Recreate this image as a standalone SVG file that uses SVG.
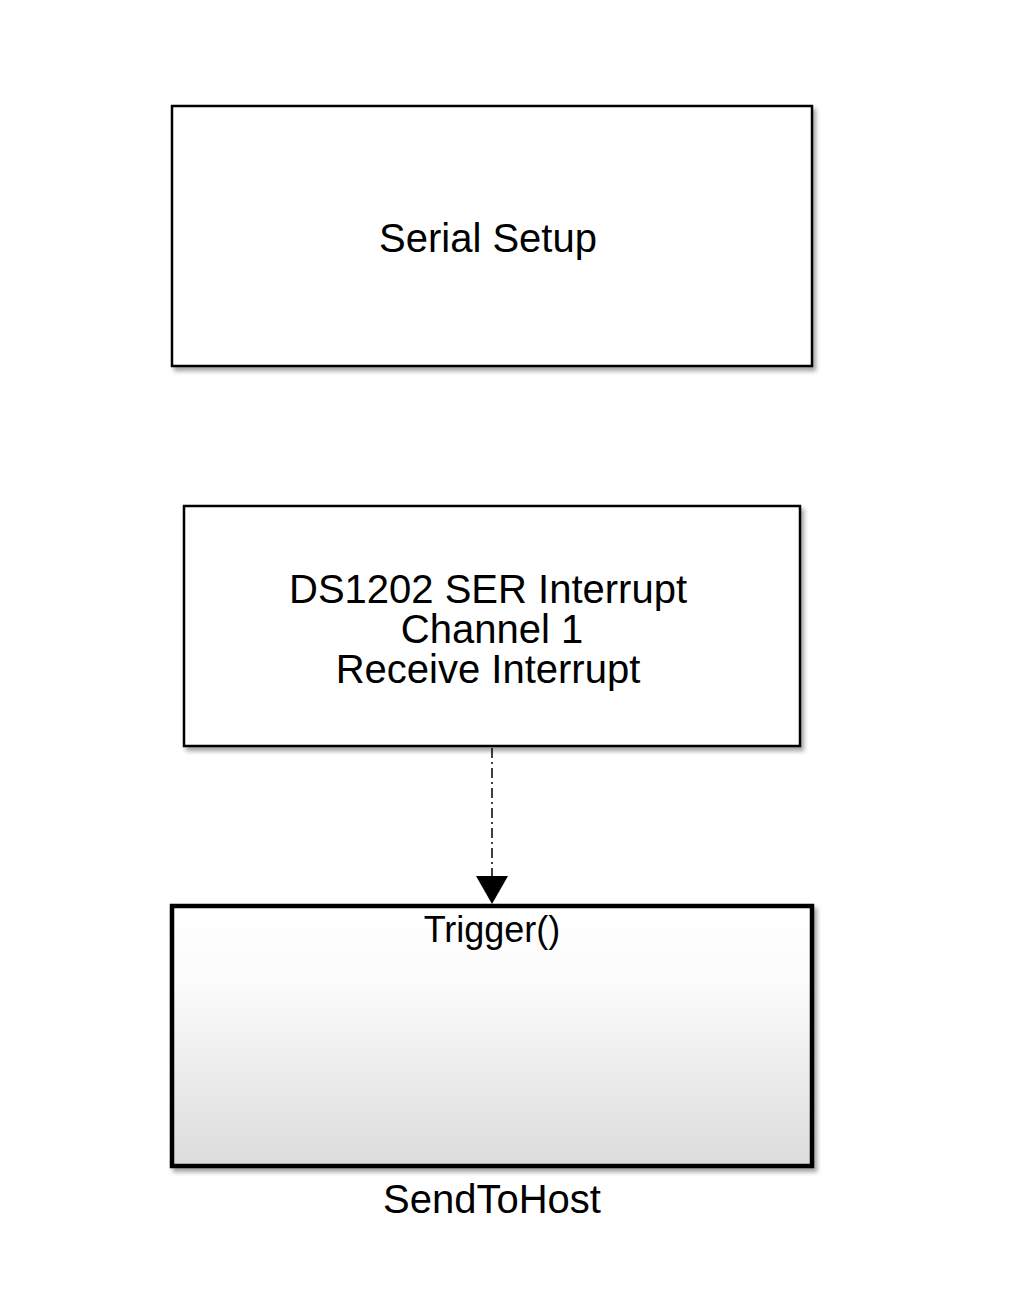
<svg xmlns="http://www.w3.org/2000/svg" width="1024" height="1312" viewBox="0 0 1024 1312">
<style>
.blk{fill:#fff;stroke:#000;stroke-width:2.5}
.lbl{font-family:"Liberation Sans",Arial,sans-serif;fill:#000;text-anchor:middle}
</style>
<defs>
<filter id="sh" x="-5%" y="-5%" width="115%" height="120%">
<feDropShadow dx="3" dy="4" stdDeviation="2" flood-color="#000" flood-opacity="0.35"/>
</filter>
<linearGradient id="grad" x1="0" y1="0" x2="0" y2="1">
<stop offset="0" stop-color="#fff"/>
<stop offset="0.3" stop-color="#fbfbfb"/>
<stop offset="1" stop-color="#dcdcdc"/>
</linearGradient>
</defs>
<rect width="1024" height="1312" fill="#fff"/>
<g id="serial-setup">
<rect class="blk" x="172" y="106" width="640" height="260" filter="url(#sh)"/>
<text class="lbl" x="488" y="252" font-size="40">Serial Setup</text>
</g>
<g id="ds1202-interrupt">
<rect class="blk" x="184" y="506" width="616" height="240" filter="url(#sh)"/>
<text class="lbl" x="488" y="603" font-size="40">DS1202 SER Interrupt</text>
<text class="lbl" x="492" y="643" font-size="40">Channel 1</text>
<text class="lbl" x="488" y="683" font-size="40">Receive Interrupt</text>
</g>
<g id="send-to-host">
<rect x="172" y="906" width="640" height="260" fill="url(#grad)" stroke="#000" stroke-width="4.5" filter="url(#sh)"/>
<text class="lbl" x="492" y="942" font-size="36">Trigger()</text>
<text class="lbl" x="492" y="1213" font-size="40">SendToHost</text>
</g>
<g id="connectors">
<line x1="492" y1="748" x2="492" y2="877" stroke="#000" stroke-width="1.5" stroke-dasharray="10,4,2,4"/>
<polygon points="476,876 508,876 492,904" fill="#000"/>
</g>
</svg>
